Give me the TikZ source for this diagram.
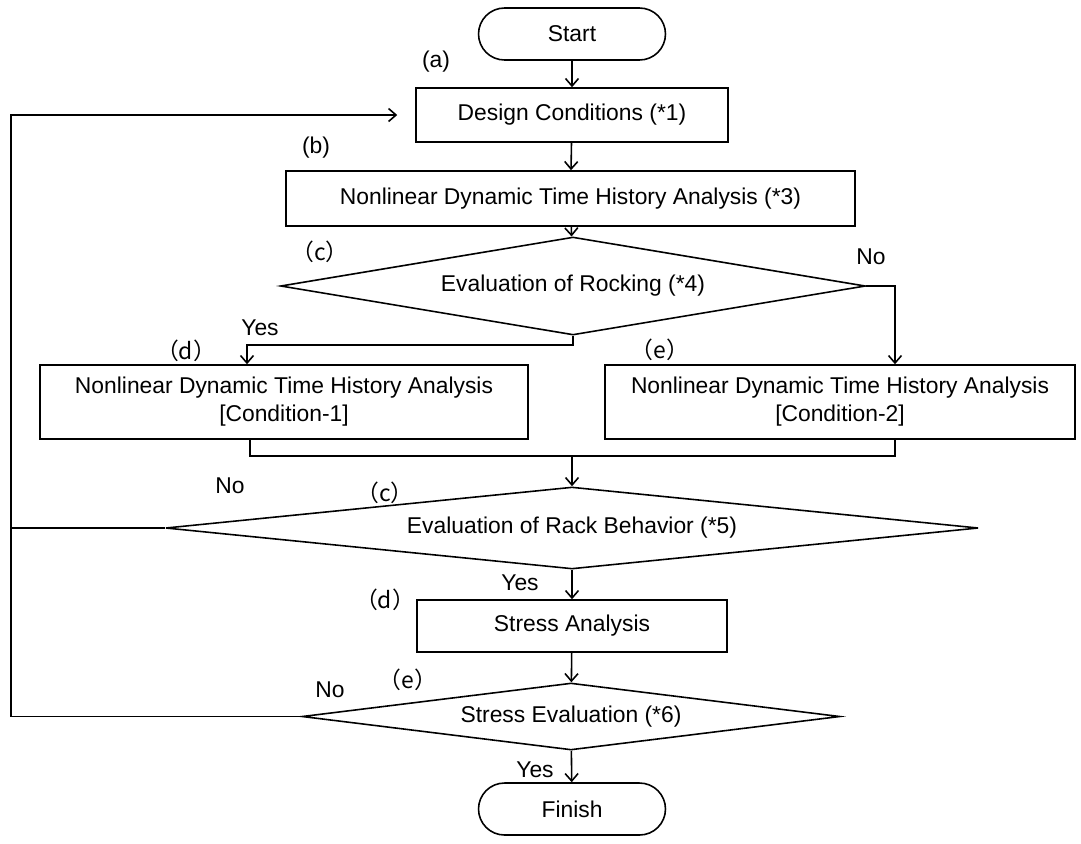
\documentclass[tikz,border=0pt]{standalone}
\usepackage{fontspec}
\setmainfont{Liberation Sans}
\newfontfamily\cjk{Noto Sans CJK JP}
\usetikzlibrary{arrows.meta,shapes.geometric,shapes.misc}
\tikzset{
  chart/.style={
    line width=0.9pt,
    font=\fontsize{13}{16}\selectfont
  },
  procbox/.style={
    draw,
    rectangle,
    inner sep=0pt,
    align=center
  },
  decide/.style={
    draw,
    diamond,
    inner sep=0pt
  },
  terminal/.style={
    draw,
    rounded rectangle,
    minimum width=3.74cm,
    minimum height=1.04cm,
    inner sep=0pt
  },
  flow/.style={-{Straight Barb[length=1.5mm,width=2.6mm]}},
  tag/.style={inner sep=0pt}
}
\begin{document}
\begin{tikzpicture}[chart, x=0.02cm, y=-0.02cm]
  \useasboundingbox (0,0) rectangle (1081,843);
  % main column
  \node[terminal] (start) at (572,34) {Start};
  \node[procbox, minimum width=6.24cm, minimum height=1.08cm] (design) at (572,115) {Design Conditions (*1)};
  \node[procbox, minimum width=11.38cm, minimum height=1.1cm] (nlda) at (570.5,198.5) {Nonlinear Dynamic Time History Analysis (*3)};
  \node[decide, aspect=5.97, minimum width=11.7cm, minimum height=1.96cm] (rock) at (573,286) {Evaluation of Rocking (*4)};
  \node[procbox, minimum width=9.76cm, minimum height=1.48cm] (cond1) at (284,402) {Nonlinear Dynamic Time History Analysis\\{}[Condition-1]};
  \node[procbox, minimum width=9.4cm, minimum height=1.48cm] (cond2) at (840,402) {Nonlinear Dynamic Time History Analysis\\{}[Condition-2]};
  \node[decide, aspect=9.9, minimum width=16.26cm, minimum height=1.64cm] (rack) at (572,528) {Evaluation of Rack Behavior (*5)};
  \node[procbox, minimum width=6.2cm, minimum height=1.04cm] (stress) at (572,626) {Stress Analysis};
  \node[decide, aspect=8, minimum width=10.76cm, minimum height=1.34cm] (sevl) at (571,716.5) {Stress Evaluation (*6)};
  \node[terminal] (finish) at (572,809) {Finish};

  % turning points
  \coordinate (yesturn) at (247,345);
  \coordinate (noturn) at (895,286);
  \coordinate (mleft) at (250,456);
  \coordinate (mright) at (895,456);
  \coordinate (merge) at (572,456);
  \coordinate (loopc) at (11,115);

  \draw[flow] (start) -- (design);
  \draw[flow] (design) -- (nlda);
  \draw[flow] (nlda) -- (rock);
  \draw[flow] (rock.south) |- (yesturn) -- (yesturn |- cond1.north);
  \draw[flow] (rock.east) -- (noturn) -- (noturn |- cond2.north);
  \draw (mleft |- cond1.south) -- (mleft) -- (mright) -- (mright |- cond2.south);
  \draw[flow] (merge) -- (rack.north);
  \draw[flow] (rack) -- (stress);
  \draw[flow] (stress) -- (sevl);
  \draw[flow] (sevl) -- (finish);
  \draw (rack.west) -- (rack.west -| loopc);
  \draw[flow, shorten >=0.36cm] (sevl.west) -| (loopc) -- (design.west);

  % labels
  \node[tag] (ta) at (436,62) {(a)};
  \node[tag] (tb) at (316,148) {(b)};
  \node[tag] (tc1) at (320,252) {\cjk （c）};
  \node[tag] (no1) at (871,257) {No};
  \node[tag] (yes1) at (260,328) {Yes};
  \node[tag] (td1) at (186,351) {\cjk （d）};
  \node[tag] (te1) at (660,350) {\cjk （e）};
  \node[tag] (no2) at (230,486) {No};
  \node[tag] (tc2) at (385,493) {\cjk （c）};
  \node[tag] (yes2) at (520,583) {Yes};
  \node[tag] (td2) at (385,600) {\cjk （d）};
  \node[tag] (no3) at (330,690) {No};
  \node[tag] (te2) at (408,680) {\cjk （e）};
  \node[tag] (yes3) at (535,770) {Yes};
\end{tikzpicture}
\end{document}
